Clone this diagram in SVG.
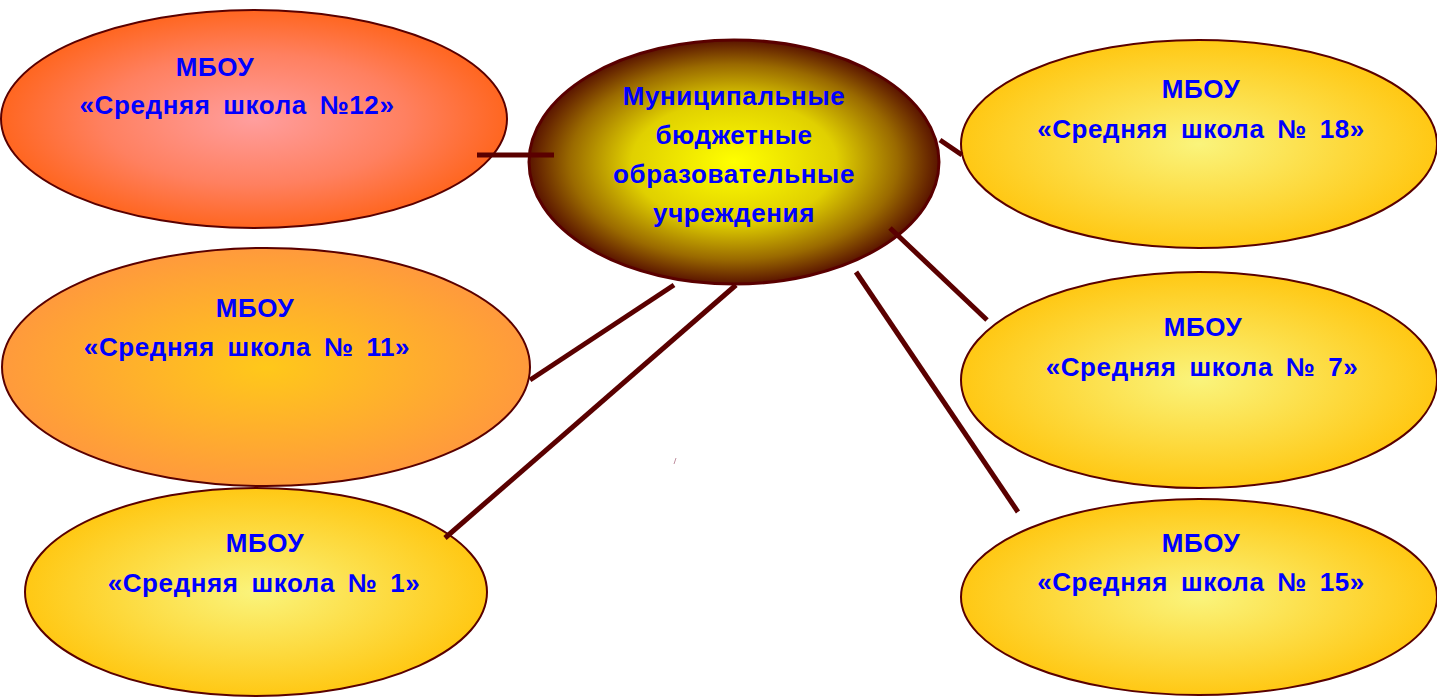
<svg xmlns="http://www.w3.org/2000/svg" width="1437" height="697" viewBox="0 0 1437 697">
<defs>
<radialGradient id="gPink" cx="50%" cy="50%" r="50%">
<stop offset="0" stop-color="#ff9e9e"/>
<stop offset="0.6" stop-color="#ff8060"/>
<stop offset="1" stop-color="#ff6620"/>
</radialGradient>
<radialGradient id="gOrange" cx="50%" cy="50%" r="50%">
<stop offset="0" stop-color="#ffc81a"/>
<stop offset="1" stop-color="#ff9a3c"/>
</radialGradient>
<radialGradient id="gYellow" cx="50%" cy="50%" r="50%">
<stop offset="0" stop-color="#faf47c"/>
<stop offset="1" stop-color="#ffc814"/>
</radialGradient>
<radialGradient id="gCenter" cx="50%" cy="50%" r="50%">
<stop offset="0" stop-color="#ffff00"/>
<stop offset="0.5" stop-color="#e0d000"/>
<stop offset="0.8" stop-color="#9a6a00"/>
<stop offset="1" stop-color="#5a1400"/>
</radialGradient>
</defs>
<style>
.node ellipse { stroke: #5a0000; stroke-width: 2; }
.t { font-family: "Comic Sans MS", "Liberation Sans", "DejaVu Sans", sans-serif; font-weight: bold; font-size: 26px; letter-spacing: 0.6px; word-spacing: 5px; fill: #0000ff; text-anchor: middle; }
.conn line { stroke: #5a0000; stroke-width: 5; }
</style>
<rect width="1437" height="697" fill="#ffffff"/>
<g id="node-12" class="node">
<ellipse cx="254" cy="119" rx="253" ry="109" fill="url(#gPink)"/>
<text class="t" x="215" y="76">МБОУ</text>
<text class="t" x="237" y="114">«Средняя школа №12»</text>
</g>
<g id="node-11" class="node">
<ellipse cx="266" cy="367" rx="264" ry="119" fill="url(#gOrange)"/>
<text class="t" x="255" y="317">МБОУ</text>
<text class="t" x="247" y="356">«Средняя школа № 11»</text>
</g>
<g id="node-1" class="node">
<ellipse cx="256" cy="592" rx="231" ry="104" fill="url(#gYellow)"/>
<text class="t" x="265" y="552">МБОУ</text>
<text class="t" x="264" y="592">«Средняя школа № 1»</text>
</g>
<g id="node-18" class="node">
<ellipse cx="1199" cy="144" rx="238" ry="104" fill="url(#gYellow)"/>
<text class="t" x="1201" y="98">МБОУ</text>
<text class="t" x="1201" y="138">«Средняя школа № 18»</text>
</g>
<g id="node-7" class="node">
<ellipse cx="1199" cy="380" rx="238" ry="108" fill="url(#gYellow)"/>
<text class="t" x="1203" y="336">МБОУ</text>
<text class="t" x="1202" y="376">«Средняя школа № 7»</text>
</g>
<g id="node-15" class="node">
<ellipse cx="1199" cy="597" rx="238" ry="98" fill="url(#gYellow)"/>
<text class="t" x="1201" y="552">МБОУ</text>
<text class="t" x="1201" y="591">«Средняя школа № 15»</text>
</g>
<g id="node-center" class="node">
<ellipse cx="734" cy="162" rx="205" ry="122" fill="url(#gCenter)" style="stroke-width:3"/>
<text class="t" x="734" y="105">Муниципальные</text>
<text class="t" x="734" y="144">бюджетные</text>
<text class="t" x="734" y="183">образовательные</text>
<text class="t" x="734" y="222">учреждения</text>
</g>
<g id="connectors" class="conn">
<line x1="477" y1="155" x2="554" y2="155"/>
<line x1="940" y1="140" x2="962" y2="155"/>
<line x1="890" y1="228" x2="987" y2="320"/>
<line x1="856" y1="272" x2="1018" y2="512"/>
<line x1="674" y1="285" x2="530" y2="380"/>
<line x1="736" y1="285" x2="445" y2="538"/>
</g>
<line x1="674" y1="464" x2="676" y2="458" stroke="#c090a0" stroke-width="1"/>
</svg>
